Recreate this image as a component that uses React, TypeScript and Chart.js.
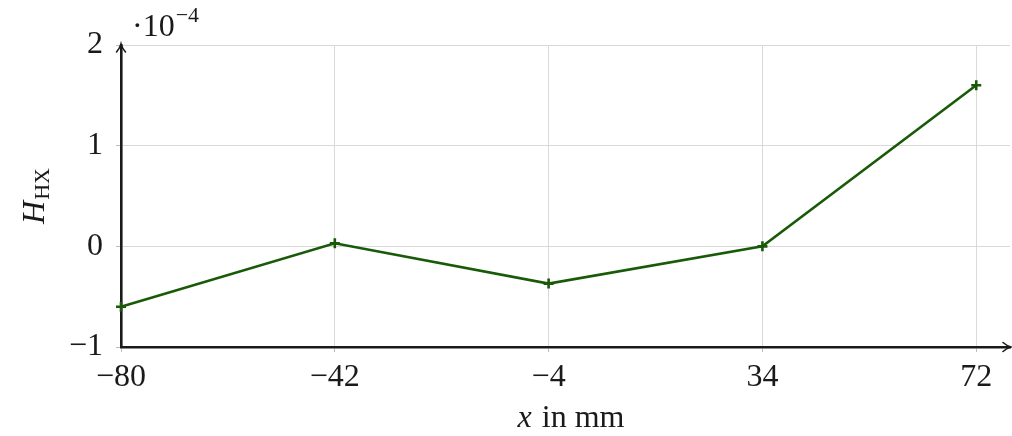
import React, { useEffect, useRef } from "react";
import { Chart, registerables } from "chart.js";

Chart.register(...registerables);

// ---- data ----
const X_VALUES = [-80, -42, -4, 34, 72];
const H_VALUES = [-0.6, 0.03, -0.37, 0.0, 1.6];
const X_TICKS = [-80, -42, -4, 34, 72];
const Y_TICKS = [-1, 0, 1, 2];
const X_MIN = -80;
const X_MAX = 78;
const Y_MIN = -1;
const Y_MAX = 2;
const X_TITLE_VAR = "x";
const X_TITLE_REST = " in mm";
const Y_TITLE_VAR = "H";
const Y_TITLE_SUB = "HX";
const EXPONENT_BASE = "\u00b710";
const EXPONENT_POWER = "\u22124";

const LINE_COLOR = "#185a08";
const GRID_COLOR = "#d9d9d9";
const AXIS_COLOR = "#1a1a1a";
const FONT = "'Liberation Serif', 'Times New Roman', serif";

const fmt = (v: number) => (v < 0 ? "\u2212" + Math.abs(v) : String(v));

const decorPlugin = {
  id: "decor",
  afterDraw(chart: any) {
    const ctx = chart.ctx as CanvasRenderingContext2D;
    const { left, right, top, bottom } = chart.chartArea;
    ctx.save();
    // arrow heads ("to" style)
    ctx.strokeStyle = AXIS_COLOR;
    ctx.lineWidth = 1.6;
    ctx.lineCap = "round";
    // y axis arrow (up)
    ctx.beginPath();
    ctx.moveTo(left - 4.5, top + 7);
    ctx.quadraticCurveTo(left - 1, top + 3, left, top - 1);
    ctx.quadraticCurveTo(left + 1, top + 3, left + 4.5, top + 7);
    ctx.stroke();
    // x axis arrow (right)
    ctx.beginPath();
    ctx.moveTo(right - 7, bottom - 4.5);
    ctx.quadraticCurveTo(right - 3, bottom - 1, right + 1, bottom);
    ctx.quadraticCurveTo(right - 3, bottom + 1, right - 7, bottom + 4.5);
    ctx.stroke();

    ctx.fillStyle = "#1a1a1a";
    ctx.textBaseline = "alphabetic";
    ctx.textAlign = "left";

    // x title
    const italic = `italic 32px ${FONT}`;
    const upright = `32px ${FONT}`;
    ctx.font = italic;
    const w1 = ctx.measureText(X_TITLE_VAR).width;
    ctx.font = upright;
    const w2 = ctx.measureText(X_TITLE_REST).width;
    const cx = 570;
    const xStart = cx - (w1 + w2) / 2;
    ctx.font = italic;
    ctx.fillText(X_TITLE_VAR, xStart, 427);
    ctx.font = upright;
    ctx.fillText(X_TITLE_REST, xStart + w1 + 2, 427);

    // y title (rotated)
    ctx.save();
    ctx.translate(44, (top + bottom) / 2);
    ctx.rotate(-Math.PI / 2);
    ctx.font = italic;
    const h1 = ctx.measureText(Y_TITLE_VAR).width;
    ctx.font = `22px ${FONT}`;
    const h2 = ctx.measureText(Y_TITLE_SUB).width;
    const ys = -(h1 + h2 + 1) / 2;
    ctx.font = italic;
    ctx.fillText(Y_TITLE_VAR, ys, 0);
    ctx.font = `22px ${FONT}`;
    ctx.fillText(Y_TITLE_SUB, ys + h1 + 1, 5);
    ctx.restore();

    // exponent label
    ctx.font = upright;
    ctx.fillText(EXPONENT_BASE, left + 11, 36);
    const wb = ctx.measureText(EXPONENT_BASE).width;
    ctx.font = `22px ${FONT}`;
    ctx.fillText(EXPONENT_POWER, left + 11 + wb + 1, 22);
    ctx.restore();
  },
};

export default function App() {
  const canvasRef = useRef<HTMLCanvasElement | null>(null);

  useEffect(() => {
    const canvas = canvasRef.current;
    if (!canvas) return;
    const chart = new Chart(canvas, {
      type: "line",
      data: {
        datasets: [
          {
            data: X_VALUES.map((x, i) => ({ x, y: H_VALUES[i] })),
            borderColor: LINE_COLOR,
            backgroundColor: LINE_COLOR,
            borderWidth: 2.6,
            pointStyle: "cross",
            pointRadius: 5,
            pointBorderWidth: 2.6,
            pointBorderColor: LINE_COLOR,
            tension: 0,
            fill: false,
            clip: false as any,
          },
        ],
      },
      options: {
        animation: false,
        responsive: false,
        devicePixelRatio: 1,
        layout: { autoPadding: false, padding: { top: 45, right: 2, left: 0, bottom: 0 } },
        plugins: {
          legend: { display: false },
          tooltip: { enabled: false },
          title: { display: false },
        },
        scales: {
          x: {
            type: "linear",
            min: X_MIN,
            max: X_MAX,
            afterBuildTicks: (scale: any) => {
              scale.ticks = X_TICKS.map((v) => ({ value: v }));
            },
            afterFit: (scale: any) => {
              scale.height = 89;
              scale.paddingLeft = 0;
              scale.paddingRight = 0;
            },
            grid: {
              color: GRID_COLOR,
              lineWidth: 1,
              drawTicks: true,
              tickLength: 5,
              tickColor: "#bdbdbd",
            },
            border: { display: true, color: AXIS_COLOR, width: 2.6 },
            ticks: {
              color: "#1a1a1a",
              font: { family: FONT, size: 32 },
              padding: 6,
              maxRotation: 0,
              autoSkip: false,
              callback: (v: any) => fmt(Number(v)),
            },
          },
          y: {
            type: "linear",
            min: Y_MIN,
            max: Y_MAX,
            afterBuildTicks: (scale: any) => {
              scale.ticks = Y_TICKS.map((v) => ({ value: v }));
            },
            afterFit: (scale: any) => {
              scale.width = 121;
              scale.paddingTop = 0;
              scale.paddingBottom = 0;
            },
            grid: {
              color: GRID_COLOR,
              lineWidth: 1,
              drawTicks: true,
              tickLength: 5,
              tickColor: "#bdbdbd",
            },
            border: { display: true, color: AXIS_COLOR, width: 2.6 },
            ticks: {
              color: "#1a1a1a",
              font: { family: FONT, size: 32 },
              padding: 13,
              autoSkip: false,
              callback: (v: any) => fmt(Number(v)),
            },
          },
        },
      },
      plugins: [decorPlugin],
    });
    return () => chart.destroy();
  }, []);

  return (
    <div style={{ position: "fixed", left: 0, top: 0, width: 1012, height: 436, background: "#fff" }}>
      <canvas ref={canvasRef} width={1012} height={436} style={{ display: "block" }} />
    </div>
  );
}
